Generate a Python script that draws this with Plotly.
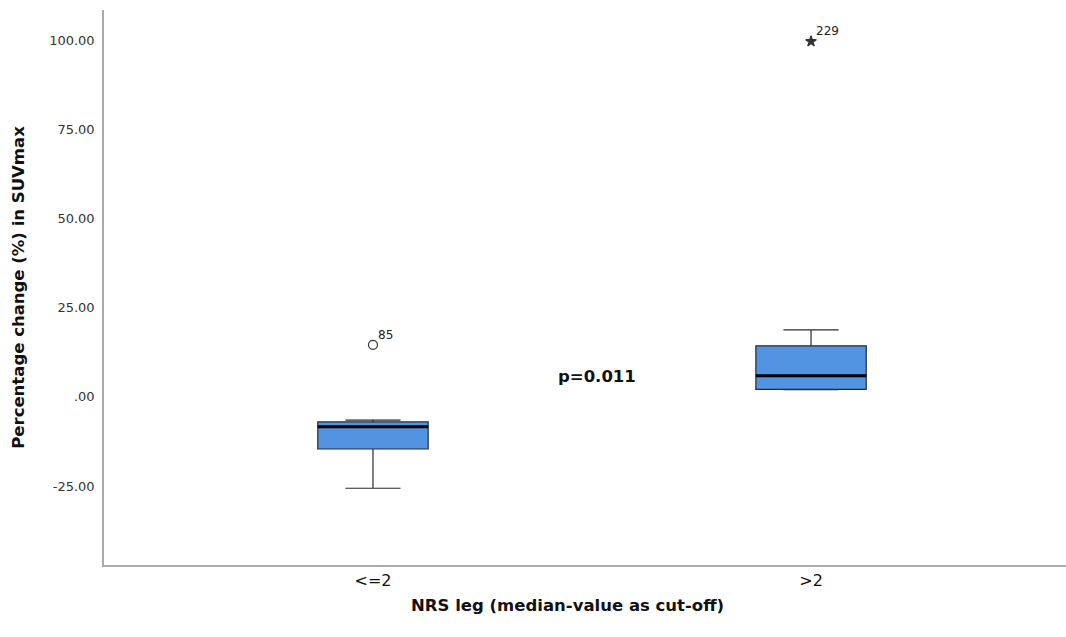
import plotly.graph_objects as go

categories = ["<=2", ">2"]
positions = [0, 1]
q1 = [-14.6, 2.1]
median = [-8.4, 5.9]
q3 = [-7.0, 14.3]
lower_whisker = [-25.6, 2.0]
upper_whisker = [-6.5, 18.8]
outlier_vals = [14.6, 99.6]
outlier_labels = ["85", "229"]
outlier_symbols = ["circle-open", "star"]
y_ticks = [-25, 0, 25, 50, 75, 100]
y_tick_text = ["-25.00", ".00", "25.00", "50.00", "75.00", "100.00"]
p_text = "p=0.011"

BOX_W = 0.252
FILL = "#5394E2"
LINE = "#2b2b2b"
FONT = "DejaVu Sans"

fig = go.Figure()
for i, pos in enumerate(positions):
    fig.add_trace(go.Box(
        x=[pos], q1=[q1[i]], median=[median[i]], q3=[q3[i]],
        lowerfence=[lower_whisker[i]], upperfence=[upper_whisker[i]],
        width=BOX_W, whiskerwidth=0.5, fillcolor=FILL,
        line=dict(color=LINE, width=1.2), boxpoints=False,
        showlegend=False, hoverinfo="skip"))
    # thick median line
    fig.add_trace(go.Scatter(
        x=[pos - BOX_W / 2, pos + BOX_W / 2], y=[median[i], median[i]],
        mode="lines", line=dict(color="black", width=3),
        showlegend=False, hoverinfo="skip"))
    # outlier marker
    fig.add_trace(go.Scatter(
        x=[pos], y=[outlier_vals[i]], mode="markers",
        marker=dict(symbol=outlier_symbols[i], size=9 if i == 0 else 8,
                    color="#333333", line=dict(color="#333333", width=1.2)),
        showlegend=False, hoverinfo="skip"))
    fig.add_annotation(x=pos, y=outlier_vals[i], text=outlier_labels[i],
                       showarrow=False, xanchor="left", yanchor="bottom",
                       xshift=3, yshift=1,
                       font=dict(family=FONT, size=12, color="#222222"))

fig.add_annotation(x=0.511, y=5.6, text="<b>" + p_text + "</b>", showarrow=False,
                   font=dict(family=FONT, size=16.5, color="#111111"))

# x-axis title
fig.add_annotation(xref="paper", yref="paper", x=(567 - 104) / (1066 - 104), y=0,
                   yshift=-29, yanchor="top", showarrow=False,
                   text="<b>NRS leg (median-value as cut-off)</b>",
                   font=dict(family=FONT, size=16.5, color="#111111"))

fig.update_layout(
    width=1066, height=637,
    margin=dict(l=104, r=0, t=10, b=72),
    paper_bgcolor="white", plot_bgcolor="white",
    font=dict(family=FONT, color="#333333"),
    xaxis=dict(range=[-0.614, 1.582], tickvals=positions, ticktext=categories,
               showgrid=False, zeroline=False, showline=True, linecolor="#aaaaaa",
               linewidth=1.5, ticks="", tickfont=dict(family=FONT, size=16, color="#111111")),
    yaxis=dict(range=[-47.1, 108.4], tickvals=y_ticks, ticktext=y_tick_text,
               showgrid=False, zeroline=False, showline=True, linecolor="#aaaaaa",
               linewidth=1.5, ticks="", ticklabelstandoff=5,
               tickfont=dict(family=FONT, size=13, color="#333333"),
               title=dict(text="<b>Percentage change (%) in SUVmax</b>", standoff=20,
                          font=dict(family=FONT, size=16.5, color="#111111"))),
)

fig.write_html("out.html")
